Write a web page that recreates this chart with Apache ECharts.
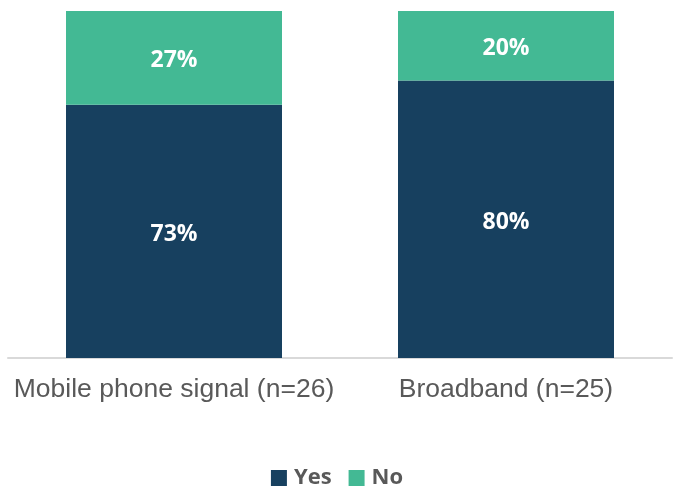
<!DOCTYPE html>
<html><head><meta charset="utf-8">
<script src="https://cdn.jsdelivr.net/npm/echarts@6/dist/echarts.min.js"></script>
<style>html,body{margin:0;padding:0;background:#fff}#c{width:674px;height:486px}</style>
</head><body><div id="c"></div>
<script>
const categories = ['Mobile phone signal (n=26)', 'Broadband (n=25)'];
const yesValues = [73, 80];
const noValues = [27, 20];
const seriesNames = ['Yes', 'No'];

const chart = echarts.init(document.getElementById('c'));
const lbl = {show: true, position: 'inside', offset: [0, 3], color: '#fff', fontFamily: 'Open Sans', fontWeight: 'bold', fontSize: 23, formatter: p => p.value + '%'};
chart.setOption({
  animation: false,
  grid: {left: 8, right: 2, top: 11, bottom: 128, containLabel: false},
  legend: {top: 462, left: 'center', itemWidth: 16, itemHeight: 16, itemGap: 17, icon: 'rect',
    textStyle: {fontFamily: 'Open Sans', fontWeight: 'bold', fontSize: 22, color: '#595959', padding: [0, 0, 0, 2]},
    data: seriesNames},
  xAxis: {type: 'category', data: categories,
    axisLine: {lineStyle: {color: '#d9d9d9', width: 2}}, axisTick: {show: false},
    axisLabel: {interval: 0, color: '#595959', fontFamily: 'Liberation Sans', fontSize: 26.5, margin: 18}},
  yAxis: {type: 'value', min: 0, max: 100, show: false, splitLine: {show: false}},
  series: [
    {name: seriesNames[0], type: 'bar', stack: 's', data: yesValues, barWidth: 216, itemStyle: {color: '#17405f'}, label: lbl},
    {name: seriesNames[1], type: 'bar', stack: 's', data: noValues, barWidth: 216, itemStyle: {color: '#43b994'}, label: lbl}
  ]
});
</script></body></html>
